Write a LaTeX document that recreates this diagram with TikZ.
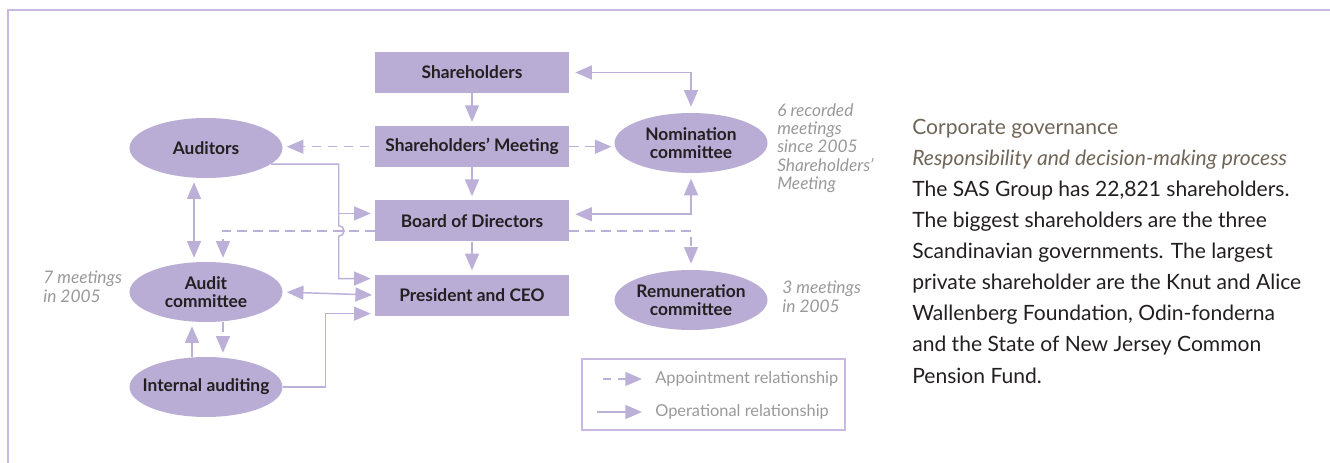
\documentclass[tikz,border=0pt]{standalone}
\usepackage{fontspec}
\setmainfont{Lato}
\usetikzlibrary{arrows.meta,calc,positioning,shapes.geometric}
\definecolor{lav}{HTML}{B9ADD5}
\definecolor{lavline}{HTML}{BCB0D9}
\definecolor{framecol}{HTML}{C9B8E2}
\definecolor{notegray}{HTML}{999999}
\definecolor{headcol}{HTML}{6F6558}
\definecolor{ink}{HTML}{231F20}
\tikzset{ar/.style={->,line width=1.1pt,draw=lavline,shorten >=3pt},
    dar/.style={ar,dash pattern=on 7pt off 5pt}}
\tikzstyle{int}=[rectangle, fill=lav, text=ink, minimum width=145.5pt, minimum height=30.75pt, inner sep=0pt, font=\bfseries\fontsize{13}{15}\selectfont]
\tikzstyle{ell}=[ellipse, fill=lav, text=ink, minimum width=114.75pt, minimum height=45pt, inner xsep=-9pt, inner ysep=0pt, align=center, font=\bfseries\fontsize{13}{13.5}\selectfont]
\tikzstyle{notes}=[anchor=north west, inner sep=0pt, align=left, text=notegray, font=\itshape\fontsize{13}{13.8}\selectfont]
\tikzstyle{legtxt}=[anchor=west, inner sep=0pt, text=notegray, font=\fontsize{12.3}{14}\selectfont]

\begin{document}
\begin{tikzpicture}[x=0.75pt,y=-0.75pt,node distance=24.5pt,>={Triangle[length=12.5pt,width=10.5pt]}]
    \useasboundingbox (0,0) rectangle (1330,463);
    \draw[framecol,line width=1pt] (8,463) -- (8,10) -- (1330,10);

    % decision chain
    \node [int] (sh) at (472,72.5) {Shareholders};
    \node [int, below=of sh] (sm) {Shareholders’ Meeting};
    \node [int, below=of sm] (bd) {Board of Directors};
    \node [int, below=of bd] (ceo) {President and CEO};

    % committees and auditing
    \node [ell] (aud) at (206,148) {Auditors};
    \node [ell] (ac) at (206,292) {Audit\\committee};
    \node [ell] (ia) at (206,387) {Internal auditing};
    \node [ell] (nom) at (691,143) {Nomination\\committee};
    \node [ell] (rem) at (691,300) {Remuneration\\committee};

    \node [notes] (n7) at (43,271) {7 meetings\\in 2005};
    \node [notes] (n6) at (777,103) {6 recorded\\meetings\\since 2005\\Shareholders’\\Meeting};
    \node [notes] (n3) at (782,281) {3 meetings\\in 2005};

    \draw[ar] (sh) -- (sm);
    \draw[ar] (sm) -- (bd);
    \draw[ar] (bd) -- (ceo);

    \draw[ar,<->,shorten <=4.5pt,shorten >=4.5pt] (sh.east) -| (nom.north);
    \draw[dar,shorten >=2pt] (sm.east) -- (sm.east -| nom.west);
    \draw[ar,<->,shorten <=4.5pt,shorten >=4pt] ([yshift=5pt]bd.east) -| (nom.south);
    \draw[dar,shorten >=4.5pt] ([yshift=-7.5pt]bd.east) -| (rem.north);

    \draw[dar,shorten <=4pt] (sm.west) -- (sm.west -| aud.east);
    \coordinate (hop) at ([xshift=-27pt,yshift=-7.5pt]bd.west);
    \coordinate (tap) at ([xshift=-27pt,yshift=5.6pt]bd.west);
    \draw[ar] (aud.-14) -| ([yshift=4pt]hop) arc[start angle=90,end angle=-90,radius=4pt] |- ([yshift=12.4pt]ceo.west);
    \draw[ar] (tap) -- ([yshift=5.6pt]bd.west);
    \draw[dar] ([yshift=-7.5pt]bd.west) -| ([xshift=12.75pt]ac.north);
    \draw[ar,<->,shorten <=3pt] ([xshift=-9pt]aud.south) -- ([xshift=-9pt]ac.north);
    \draw[ar,<->,shorten <=3pt,shorten >=2pt] (ac.east) -- (ceo.west);
    \draw[ar] (ia.east) -| ([xshift=-36.75pt,yshift=-13.9pt]ceo.west) -- ([yshift=-13.9pt]ceo.west);
    \draw[ar] ([xshift=-10.5pt]ia.north) -- ([xshift=-10.5pt]ac.south);
    \draw[dar] ([xshift=12.75pt]ac.south) -- ([xshift=12.75pt]ia.north);

    % key
    \node [draw=framecol, line width=0.8pt, minimum width=197.25pt, minimum height=53.25pt] (key) at (713.5,394.5) {};
    \node [legtxt] (lapp) at (655,379) {Appointment relationship};
    \node [legtxt] (lop) at (655,412) {Operational relationship};
    \draw[dar,dash pattern=on 6pt off 5pt,shorten >=0pt] ([xshift=-39pt]lapp.west) -- ([xshift=-9.75pt]lapp.west);
    \draw[ar,shorten >=0pt] ([xshift=-43.5pt]lop.west) -- ([xshift=-9.75pt]lop.west);

    % side text
    \node [anchor=north west, inner sep=0pt, align=left, text=ink, font=\fontsize{15.8}{23.3}\selectfont] (txt) at (912,119)
        {\textcolor{headcol}{Corporate governance}\\
         \textcolor{headcol}{\itshape Responsibility and decision-making process}\\
         The SAS Group has 22,821 shareholders.\\
         The biggest shareholders are the three\\
         Scandinavian governments. The largest\\
         private shareholder are the Knut and Alice\\
         Wallenberg Foundation, Odin-fonderna\\
         and the State of New Jersey Common\\
         Pension Fund.};
\end{tikzpicture}
\end{document}
